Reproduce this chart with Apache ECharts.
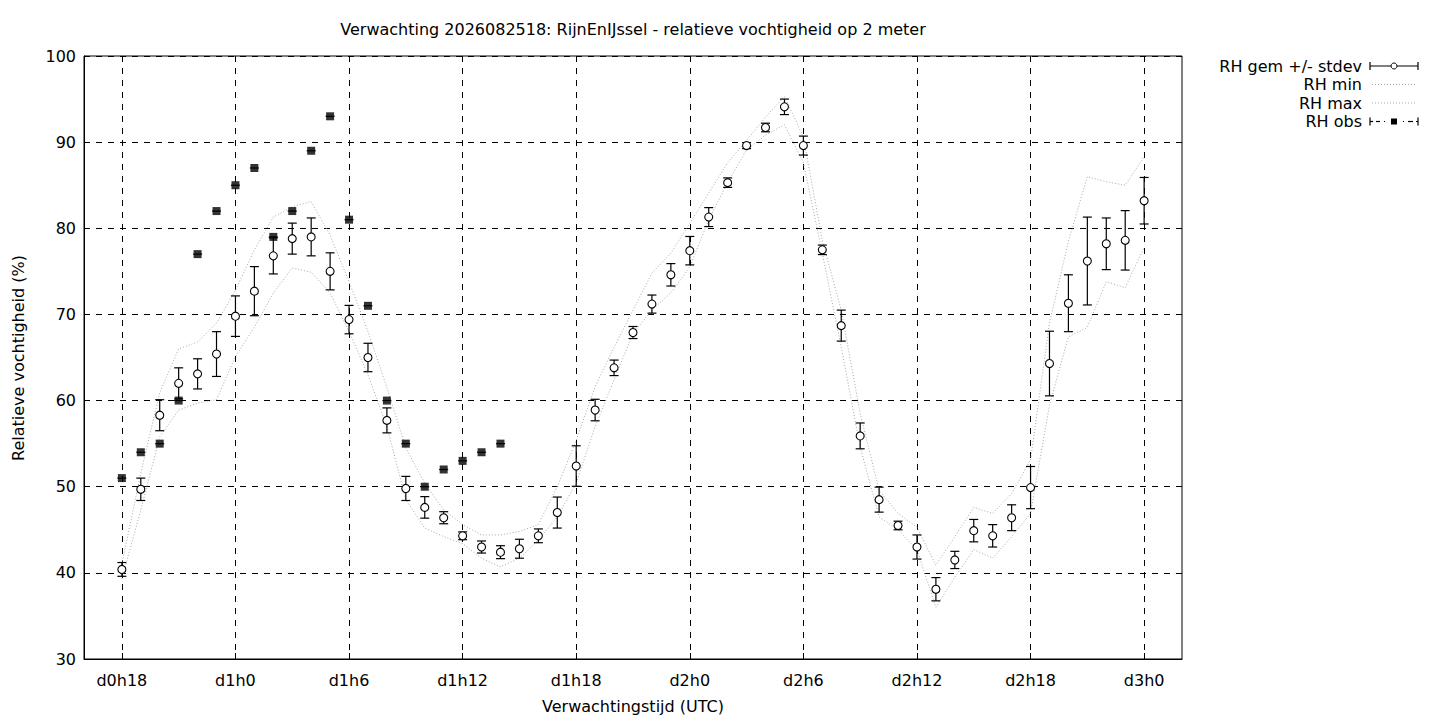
<!DOCTYPE html>
<html><head><meta charset="utf-8">
<script src="https://cdn.jsdelivr.net/npm/echarts@6/dist/echarts.min.js"></script>
<style>html,body{margin:0;padding:0;background:#fff}#c{width:1440px;height:720px}</style>
</head><body><div id="c"></div>
<script>
// forecast hours since d0h0
const hours = [18,19,20,21,22,23,24,25,26,27,28,29,30,31,32,33,34,35,36,37,38,39,40,41,42,43,44,45,46,47,48,49,50,51,52,53,54,55,56,57,58,59,60,61,62,63,64,65,66,67,68,69,70,71,72];
const rhMean = [40.4,49.7,58.3,62.0,63.1,65.4,69.8,72.7,76.8,78.8,79.0,75.0,69.4,65.0,57.7,49.8,47.6,46.4,44.3,43.0,42.4,42.8,44.3,47.0,52.4,58.9,63.8,67.9,71.2,74.6,77.4,81.3,85.3,89.6,91.7,94.1,89.6,77.5,68.7,55.9,48.5,45.5,43.0,38.1,41.5,44.9,44.3,46.4,49.9,64.3,71.3,76.2,78.2,78.6,83.2];
const rhStdev = [0.8,1.3,1.8,1.8,1.75,2.6,2.35,2.85,2.1,1.8,2.2,2.15,1.65,1.65,1.45,1.4,1.25,0.7,0.45,0.7,0.75,1.1,0.8,1.8,2.35,1.25,0.9,0.7,1.05,1.3,1.65,1.1,0.55,0.35,0.5,0.9,1.1,0.55,1.8,1.5,1.45,0.5,1.4,1.35,1.0,1.3,1.3,1.5,2.45,3.75,3.3,5.1,3.0,3.45,2.7];
const rhMin = [39.3,47.3,55.8,58.9,59.7,60.1,65.1,68.5,72.5,75.4,74.9,72.5,68.0,63.0,57.0,48.5,45.2,44.2,43.4,41.7,40.7,41.7,43.8,46.5,50.4,57.0,62.4,67.8,70.5,72.5,75.5,81.0,85.3,89.1,90.8,92.0,87.6,77.1,66.2,54.6,46.5,45.0,42.7,36.0,39.5,42.7,41.7,44.2,46.9,59.5,67.4,68.5,73.8,73.1,77.8];
const rhMax = [41.0,51.6,60.9,66.0,66.8,69.0,72.8,77.5,81.3,82.5,83.1,79.2,73.8,68.0,61.5,54.5,50.4,47.3,45.6,44.4,44.4,44.8,45.6,50.0,55.4,61.6,66.2,70.5,74.8,77.1,80.6,84.1,87.6,90.2,92.9,95.3,90.6,78.6,70.5,58.5,49.6,46.9,45.3,40.9,44.2,47.6,46.9,49.2,53.1,69.0,78.5,86.0,85.4,85.0,88.3];
const obsHours = [18,19,20,21,22,23,24,25,26,27,28,29,30,31,32,33,34,35,36,37,38];
const rhObs = [51,54,55,60,77,82,85,87,79,82,89,93,81,71,60,55,50,52,53,54,55];
const tickValues = [18,24,30,36,42,48,54,60,66,72];
const tickLabels = ['d0h18','d1h0','d1h6','d1h12','d1h18','d2h0','d2h6','d2h12','d2h18','d3h0'];
const titleText = 'Verwachting 2026082518: RijnEnIJssel - relatieve vochtigheid op 2 meter';
const xName = 'Verwachtingstijd (UTC)';
const yName = 'Relatieve vochtigheid (%)';
const legendNames = ['RH gem +/- stdev','RH min','RH max','RH obs'];

const FONT = 'DejaVu Sans';
const FS = 16;
const chart = echarts.init(document.getElementById('c'), null, {renderer:'svg'});

const errData = hours.map((h,i)=>[h, rhMean[i]-rhStdev[i], rhMean[i]+rhStdev[i]]);
const obsData = obsHours.map((h,i)=>[h, rhObs[i]]);

function errRender(params, api){
  const x = api.value(0);
  const lo = api.coord([x, api.value(1)]);
  const hi = api.coord([x, api.value(2)]);
  const w = 4.5, st = {stroke:'#000', lineWidth:1.2};
  return {type:'group', children:[
    {type:'line', shape:{x1:lo[0],y1:lo[1],x2:hi[0],y2:hi[1]}, style:st},
    {type:'line', shape:{x1:lo[0]-w,y1:lo[1],x2:lo[0]+w,y2:lo[1]}, style:st},
    {type:'line', shape:{x1:hi[0]-w,y1:hi[1],x2:hi[0]+w,y2:hi[1]}, style:st}
  ]};
}
function obsCapRender(params, api){
  const p = api.coord([api.value(0), api.value(1)]);
  const w = 4.5;
  return {type:'line', shape:{x1:p[0]-w,y1:p[1],x2:p[0]+w,y2:p[1]}, style:{stroke:'#000', lineWidth:1.2}};
}

const textStyle = {fontFamily:FONT, fontSize:FS, fill:'#000'};
const lx1 = 1370, lx2 = 1418, lxm = 1394, ltx = 1362;
const rows = [66, 84.5, 103, 121.5];
const graphics = [
  {type:'text', x:633, y:29, style:Object.assign({text:titleText, textAlign:'center', textVerticalAlign:'middle'}, textStyle)},
  {type:'text', x:633, y:706, style:Object.assign({text:xName, textAlign:'center', textVerticalAlign:'middle'}, textStyle)},
  {type:'text', x:18, y:358, rotation:Math.PI/2, style:Object.assign({text:yName, textAlign:'center', textVerticalAlign:'middle'}, textStyle)}
];
legendNames.forEach((n,i)=>{
  graphics.push({type:'text', x:ltx, y:rows[i], style:Object.assign({text:n, textAlign:'right', textVerticalAlign:'middle'}, textStyle)});
});
const lst = {stroke:'#000', lineWidth:1.2};
graphics.push(
  {type:'line', shape:{x1:lx1,y1:rows[0],x2:lx2,y2:rows[0]}, style:lst},
  {type:'line', shape:{x1:lx1,y1:rows[0]-4,x2:lx1,y2:rows[0]+4}, style:lst},
  {type:'line', shape:{x1:lx2,y1:rows[0]-4,x2:lx2,y2:rows[0]+4}, style:lst},
  {type:'circle', shape:{cx:lxm, cy:rows[0], r:3}, style:{fill:'#fff', stroke:'#000', lineWidth:1}}
);
[1,2].forEach(i=>graphics.push({type:'line', shape:{x1:lx1+2,y1:rows[i],x2:lx2-1,y2:rows[i]}, style:{stroke:'#a8a8a8', lineWidth:1, lineDash:[1,2]}}));
const r3 = rows[3];
graphics.push(
  {type:'line', shape:{x1:lx1,y1:r3-4,x2:lx1,y2:r3+4}, style:lst},
  {type:'line', shape:{x1:lx2,y1:r3-4,x2:lx2,y2:r3+4}, style:lst},
  {type:'line', shape:{x1:lx1,y1:r3,x2:lx1+3,y2:r3}, style:lst},
  {type:'line', shape:{x1:lx1+6,y1:r3,x2:lx1+10,y2:r3}, style:lst},
  {type:'line', shape:{x1:lx1+14,y1:r3,x2:lx1+15,y2:r3}, style:lst},
  {type:'line', shape:{x1:lx2-15,y1:r3,x2:lx2-14,y2:r3}, style:lst},
  {type:'line', shape:{x1:lx2-10,y1:r3,x2:lx2-5,y2:r3}, style:lst},
  {type:'line', shape:{x1:lx2-2,y1:r3,x2:lx2,y2:r3}, style:lst},
  {type:'rect', shape:{x:lxm-3, y:r3-3, width:6, height:6}, style:{fill:'#000'}}
);

const axisLabelStyle = {color:'#000', fontFamily:FONT, fontSize:FS};
const option = {
  animation:false,
  backgroundColor:'#fff',
  grid:{left:84, top:56, width:1098, height:603, show:true, borderColor:'#000', borderWidth:1, backgroundColor:'transparent', containLabel:false, outerBoundsMode:'none'},
  xAxis:{
    type:'value', min:16, max:74,
    axisLine:{show:true, lineStyle:{color:'#000', width:1}},
    axisTick:{show:true, inside:true, length:6, customValues:tickValues, lineStyle:{color:'#000'}},
    axisLabel:Object.assign({customValues:tickValues, margin:13, formatter:(v)=>tickLabels[tickValues.indexOf(v)]}, axisLabelStyle),
    splitLine:{show:true, lineStyle:{color:'#000', width:1, type:[6,6]}}
  },
  yAxis:{
    type:'value', min:30, max:100, interval:10,
    axisLine:{show:true, lineStyle:{color:'#000', width:1}},
    axisTick:{show:true, inside:true, length:6, lineStyle:{color:'#000'}},
    axisLabel:Object.assign({margin:8}, axisLabelStyle),
    splitLine:{show:true, lineStyle:{color:'#000', width:1, type:[6,6]}}
  },
  graphic:graphics,
  series:[
    {name:'RH min', type:'line', data:hours.map((h,i)=>[h,rhMin[i]]), showSymbol:false, symbol:'none', lineStyle:{color:'#a8a8a8', width:1, type:[1,2]}, z:2},
    {name:'RH max', type:'line', data:hours.map((h,i)=>[h,rhMax[i]]), showSymbol:false, symbol:'none', lineStyle:{color:'#a8a8a8', width:1, type:[1,2]}, z:2},
    {name:'RH gem +/- stdev bars', type:'custom', renderItem:errRender, data:errData, z:3, silent:true},
    {name:'RH gem +/- stdev', type:'scatter', data:hours.map((h,i)=>[h,rhMean[i]]), symbol:'circle', symbolSize:8, itemStyle:{color:'#fff', borderColor:'#000', borderWidth:1.1, opacity:1}, z:4},
    {name:'RH obs caps', type:'custom', renderItem:obsCapRender, data:obsData, z:3, silent:true},
    {name:'RH obs', type:'scatter', data:obsData, symbol:'rect', symbolSize:8, itemStyle:{color:'#000'}, z:4}
  ]
};
chart.setOption(option);
</script>
</body></html>
